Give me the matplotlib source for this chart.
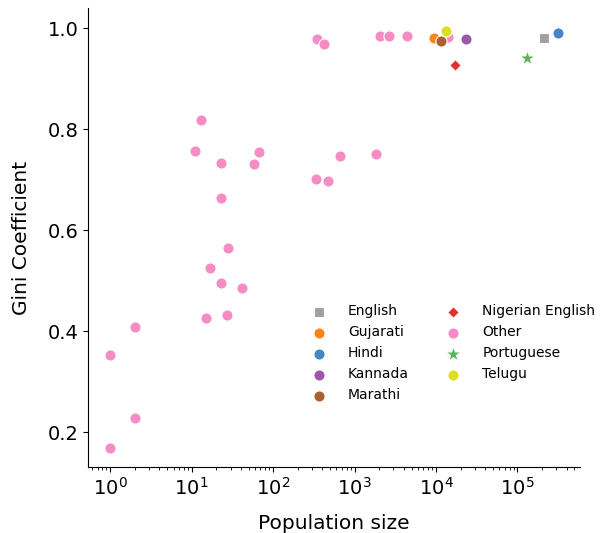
import matplotlib
matplotlib.use("Agg")
import matplotlib.pyplot as plt
import numpy as np

# Language groups, population sizes and Gini coefficients
languages = ["English", "Gujarati", "Hindi", "Kannada", "Marathi",
             "Nigerian English", "Other", "Portuguese", "Telugu"]

pop_english = [213000]
gini_english = [0.980]
pop_gujarati = [9500]
gini_gujarati = [0.980]
pop_hindi = [310000]
gini_hindi = [0.990]
pop_kannada = [23400]
gini_kannada = [0.978]
pop_marathi = [11500]
gini_marathi = [0.975]
pop_nigerian = [17000]
gini_nigerian = [0.928]
pop_portuguese = [132000]
gini_portuguese = [0.940]
pop_telugu = [13200]
gini_telugu = [0.995]

pop_other = [347, 425, 2050, 2650, 4380, 14000,
             13.1, 11.0, 23.2, 68, 59, 665, 1820, 337, 468, 23.2,
             28, 17, 23.2, 41, 15, 27, 2.0,
             1, 2, 1]
gini_other = [0.978, 0.968, 0.985, 0.984, 0.985, 0.982,
              0.818, 0.757, 0.733, 0.754, 0.731, 0.747, 0.750, 0.702, 0.698, 0.663,
              0.564, 0.525, 0.496, 0.485, 0.426, 0.431, 0.408,
              0.352, 0.228, 0.168]

colors = {
    "English": "#a0a0a0",
    "Gujarati": "#ff8418",
    "Hindi": "#4587c4",
    "Kannada": "#9c57a8",
    "Marathi": "#ab5f34",
    "Nigerian English": "#e3302e",
    "Other": "#f58cc4",
    "Portuguese": "#5bb457",
    "Telugu": "#dede22",
}
markers = {"English": "s", "Nigerian English": "D", "Portuguese": "*"}
sizes = {"English": 50, "Nigerian English": 35, "Portuguese": 140}

data = {
    "English": (pop_english, gini_english),
    "Gujarati": (pop_gujarati, gini_gujarati),
    "Hindi": (pop_hindi, gini_hindi),
    "Kannada": (pop_kannada, gini_kannada),
    "Marathi": (pop_marathi, gini_marathi),
    "Nigerian English": (pop_nigerian, gini_nigerian),
    "Other": (pop_other, gini_other),
    "Portuguese": (pop_portuguese, gini_portuguese),
    "Telugu": (pop_telugu, gini_telugu),
}

fig = plt.figure(figsize=(6, 5.33), dpi=100)
ax = fig.add_axes([0.147, 0.124, 0.820, 0.861])

# draw Other first so the coloured languages sit on top
order = ["Other"] + [l for l in languages if l != "Other"]
handles = {}
for lang in order:
    x, y = data[lang]
    h = ax.scatter(x, y, s=sizes.get(lang, 65), marker=markers.get(lang, "o"),
                   color=colors[lang], edgecolor="white", linewidth=0.8,
                   label=lang, zorder=3)
    handles[lang] = h

ax.set_xscale("log")
ax.set_xlim(10 ** -0.27, 10 ** 5.77)
ax.set_ylim(0.131, 1.04)
ax.set_yticks([0.2, 0.4, 0.6, 0.8, 1.0])
ax.set_xticks([1, 10, 100, 1000, 1e4, 1e5])
ax.tick_params(labelsize=14)
ax.set_xlabel("Population size", fontsize=14.5, labelpad=11)
ax.set_ylabel("Gini Coefficient", fontsize=14.5, labelpad=12)
ax.spines["top"].set_visible(False)
ax.spines["right"].set_visible(False)

ax.legend([handles[l] for l in languages], languages, ncol=2, frameon=False,
          fontsize=10, loc="upper left", bbox_to_anchor=(0.487, 1 - 292 / 533),
          bbox_transform=fig.transFigure, handletextpad=1.1, columnspacing=2.2,
          labelspacing=0.5)

fig.savefig("out.png", dpi=100)
